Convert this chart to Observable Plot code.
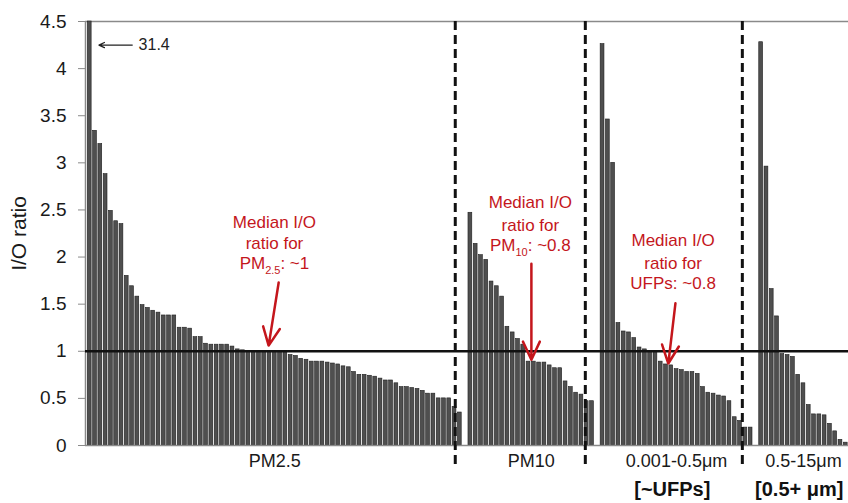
<!DOCTYPE html>
<html>
<head>
<meta charset="utf-8">
<script src="https://cdn.jsdelivr.net/npm/d3@7"></script>
<script src="https://cdn.jsdelivr.net/npm/@observablehq/plot@0.6"></script>
<style>
  html, body { margin: 0; padding: 0; background: #fff; }
  #chart { width: 848px; height: 503px; }
</style>
</head>
<body>
<div id="chart"></div>
<script>
// Indoor/outdoor (I/O) ratios, sorted from highest to lowest within each size class
const groupNames = ["PM2.5", "PM10", "0.001-0.5μm", "0.5-15μm"];
const groupTags = ["", "", "[~UFPs]", "[0.5+ μm]"];

const pm25 = [
  31.4, 3.34, 3.20, 2.88, 2.49, 2.38, 2.35, 1.80, 1.69, 1.58,
  1.49, 1.46, 1.43, 1.41, 1.38, 1.38, 1.38, 1.25, 1.25, 1.24,
  1.15, 1.15, 1.08, 1.07, 1.07, 1.07, 1.07, 1.05, 1.02, 1.01,
  1.00, 1.00, 1.00, 1.00, 1.00, 1.00, 1.00, 0.99, 0.96, 0.95,
  0.92, 0.91, 0.89, 0.89, 0.89, 0.88, 0.87, 0.86, 0.84, 0.83,
  0.78, 0.75, 0.75, 0.74, 0.73, 0.71, 0.69, 0.69, 0.66, 0.62,
  0.62, 0.61, 0.60, 0.58, 0.55, 0.55, 0.50, 0.50, 0.50, 0.41,
  0.35
];
const pm10 = [
  2.47, 2.14, 2.02, 1.97, 1.74, 1.69, 1.58, 1.26, 1.20, 1.13,
  1.07, 0.89, 0.89, 0.88, 0.88, 0.85, 0.82, 0.82, 0.68, 0.62,
  0.56, 0.54, 0.47, 0.47
];
const ufp = [
  4.26, 3.46, 3.00, 1.30, 1.21, 1.20, 1.14, 1.04, 1.02, 1.00,
  1.00, 0.89, 0.86, 0.85, 0.81, 0.80, 0.78, 0.78, 0.76, 0.62,
  0.56, 0.55, 0.53, 0.52, 0.47, 0.30, 0.26, 0.19, 0.19
];
const coarse = [
  4.28, 2.96, 1.66, 1.37, 0.97, 0.96, 0.94, 0.75, 0.66, 0.43,
  0.33, 0.33, 0.32, 0.23, 0.15, 0.06, 0.03
];

const yTicks = [0, 0.5, 1, 1.5, 2, 2.5, 3, 3.5, 4, 4.5];

// dashed separators between size classes (in bar-slot units)
const dividers = [69.5, 94.1, 123.8];

// median call-outs: text lines and arrows, in data units
const noteLines = [
  {x: 35.3, y: 2.37, text: "Median I/O"},
  {x: 35.3, y: 2.14, text: "ratio for"},
  {x: 35.3, y: 1.93, text: "PM_{2.5}: ~1"},
  {x: 83.7, y: 2.58, text: "Median I/O"},
  {x: 83.7, y: 2.33, text: "ratio for"},
  {x: 83.7, y: 2.12, text: "PM_{10}: ~0.8"},
  {x: 110.7, y: 2.18, text: "Median I/O"},
  {x: 110.7, y: 1.93, text: "ratio for"},
  {x: 110.7, y: 1.72, text: "UFPs: ~0.8"}
];
const noteArrows = [
  {x1: 36.1, y1: 1.73, x2: 34.2, y2: 1.06},
  {x1: 83.9, y1: 1.93, x2: 83.9, y2: 0.91},
  {x1: 111.15, y1: 1.51, x2: 109.8, y2: 0.87}
];
// off-scale value of the first PM2.5 bar
const offScale = {x1: 8.4, x2: 2.1, y: 4.25, tx: 9.6};

// lay the bars out in slots, leaving one empty slot between classes
const bars = [];
const spans = [];
let slot = 0;
[pm25, pm10, ufp, coarse].forEach((vals, g) => {
  const start = slot;
  vals.forEach(v => bars.push({slot: slot++, value: v, group: g}));
  spans.push({group: g, start, end: slot - 1});
  slot++;
});
const barW = 0.72;
const center = d => (d.start + d.end) / 2 + barW / 2;

const red = "#c4161c";
const font = "'Liberation Sans', Arial, Helvetica, sans-serif";

const chart = Plot.plot({
  width: 848,
  height: 503,
  marginTop: 21,
  marginRight: 0,
  marginBottom: 58,
  marginLeft: 85,
  style: {fontFamily: font, background: "#fff", color: "#1a1a1a", overflow: "visible"},
  x: {domain: [-0.44, 143.88], axis: null},
  y: {domain: [0, 4.5], clamp: true, axis: null},
  marks: [
    // frame: top, left, bottom
    Plot.ruleY([4.5], {stroke: "#8a8a8a", strokeWidth: 1.5}),
    Plot.ruleX([-0.44], {stroke: "#8a8a8a", strokeWidth: 1.5}),
    Plot.axisY(yTicks, {
      tickSize: 7, tickPadding: 12, fontSize: 19, stroke: "#8a8a8a",
      fill: "#1a1a1a", label: null, tickFormat: d => String(d)
    }),
    Plot.rectY(bars, {
      x1: "slot", x2: d => d.slot + barW, y: "value",
      fill: "#4f4f4f", stroke: "#1e1e1e", strokeWidth: 0.6
    }),
    Plot.ruleY([0], {stroke: "#8a8a8a", strokeWidth: 1.5}),
    Plot.ruleY([1], {stroke: "#111", strokeWidth: 2.5}),
    Plot.ruleX(dividers, {stroke: "#111", strokeWidth: 3, strokeDasharray: "9,5", insetBottom: -20}),
    // axis title
    Plot.text(["I/O ratio"], {
      frameAnchor: "left", textAnchor: "middle", dx: -66, rotate: -90,
      fontSize: 21, fill: "#1a1a1a"
    }),
    // size-class labels under the axis
    Plot.text(spans, {
      x: center, frameAnchor: "bottom", dy: 21,
      text: d => groupNames[d.group], fontSize: 18, fill: "#1a1a1a"
    }),
    Plot.text(spans.filter(d => groupTags[d.group]), {
      x: d => center(d) - 0.8, frameAnchor: "bottom", dy: 50,
      text: d => groupTags[d.group], fontSize: 20, fontWeight: "bold", fill: "#111"
    }),
    // median call-outs
    Plot.text(noteLines, {x: "x", y: "y", text: "text", fill: red, fontSize: 17}),
    Plot.arrow(noteArrows, {
      x1: "x1", y1: "y1", x2: "x2", y2: "y2",
      stroke: red, strokeWidth: 2.5, headLength: 12, headAngle: 50
    }),
    // off-scale marker
    Plot.arrow([offScale], {
      x1: "x1", y1: "y", x2: "x2", y2: "y",
      stroke: "#222", strokeWidth: 1.3, headLength: 7, headAngle: 50
    }),
    Plot.text([offScale], {
      x: "tx", y: "y", text: () => String(pm25[0]), textAnchor: "start",
      fontSize: 16, fill: "#222"
    })
  ]
});

// render "_{...}" as a subscript
chart.querySelectorAll("text").forEach(t => {
  if (t.querySelector("tspan")) return;
  const m = t.textContent.match(/^(.*)_\{(.+?)\}(.*)$/);
  if (!m) return;
  t.textContent = "";
  const ns = "http://www.w3.org/2000/svg";
  const a = document.createElementNS(ns, "tspan");
  a.textContent = m[1];
  const s = document.createElementNS(ns, "tspan");
  s.textContent = m[2];
  s.setAttribute("font-size", "11");
  s.setAttribute("dy", "5");
  const b = document.createElementNS(ns, "tspan");
  b.textContent = m[3];
  b.setAttribute("dy", "-5");
  t.append(a, s, b);
});

document.getElementById("chart").append(chart);
</script>
</body>
</html>
